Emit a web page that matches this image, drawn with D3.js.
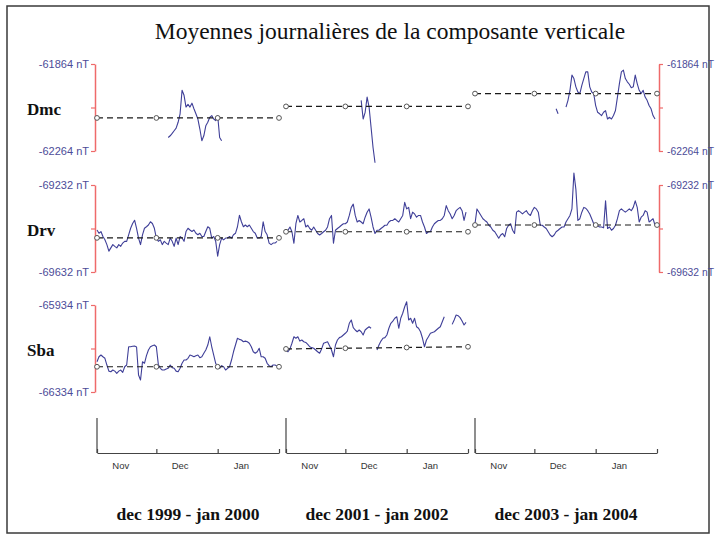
<!DOCTYPE html>
<html>
<head>
<meta charset="utf-8">
<script src="https://cdn.jsdelivr.net/npm/d3@7"></script>
<style>
  body { margin: 0; background: #fff; }
  svg { display: block; }
</style>
</head>
<body>
<svg id="chart" width="716" height="540"></svg>
<script>
// ---- data ---------------------------------------------------------------
const title = "Moyennes journalières de la composante verticale";
const stations = ["Dmc", "Drv", "Sba"];
const axisTopNT = [-61864, -69232, -65934];
const axisBottomNT = [-62264, -69632, -66334];
const rightAxisStations = ["Dmc", "Drv"];

const windowStarts = ["1999-11-01", "2001-11-01", "2003-11-01"];
const windowEnds = ["2000-02-01", "2002-02-01", "2004-02-01"];
const windowLabels = ["dec 1999 - jan 2000", "dec 2001 - jan 2002", "dec 2003 - jan 2004"];
const monthLabels = ["Nov", "Dec", "Jan"];

// daily means of Z (nT); each series starts on its "first" day, null = no data
const dmc1999 = { first: "1999-12-07", values: [
  -62202, -62194, -62183, -62171, -62159, -62132, -62093, -61985, -62008, -62062,
  -62050, -62062, -62044, -62070, -62093, -62117, -62163, -62217, -62194, -62148,
  -62132, -62109, -62101, -62117, -62124, -62101, -62202, -62217] };
const dmc2001 = { first: "2001-12-09", values: [
  -62031, -62117, -62086, -62016, -62062, -62155, -62248, -62318] };
const dmc2003 = { first: "2003-12-12", values: [
  -62070, -62093, null, null, null, -62062, -62031, -61985, -61915, -61931,
  -61969, -61993, -62000, -61962, -61931, -61900, -61900, -61969, -61993, -62000,
  -62055, -62086, -62093, -62101, -62086, -62078, -62117, -62109, -62117, -62101,
  -62078, -62016, -61954, -61900, -61892, -61931, -61946, -61957, -61973, -61969,
  -61915, -61954, -61985, -62000, -61985, -62016, -62031, -62055, -62070, -62101,
  -62117] };

const drv1999 = { first: "1999-11-01", values: [
  -69439, -69454, -69446, -69469, -69484, -69506, -69536, -69521, -69506, -69514,
  -69521, -69506, -69514, -69499, -69491, -69491, -69461, -69431, -69409, -69394,
  -69431, -69476, -69506, -69461, -69431, -69424, -69416, -69401, -69409, -69431,
  -69476, -69491, -69484, -69506, -69491, -69499, -69506, -69476, -69491, -69514,
  -69476, -69506, -69469, -69476, -69491, -69446, -69431, -69439, -69446, -69439,
  -69454, -69461, -69454, -69469, -69469, -69446, -69424, -69431, -69476, -69469,
  -69491, -69559, -69506, -69476, -69484, -69476, -69476, -69469, -69476, -69461,
  -69454, -69424, -69371, -69401, -69424, -69416, -69424, -69416, -69431, -69446,
  -69454, -69476, -69476, -69469, -69401, -69446, -69461, -69499, -69506, -69499,
  -69499, -69491] };
const drv2001 = { first: "2001-11-01", values: [
  -69440, -69440, -69425, -69447, -69500, -69410, -69372, -69402, -69395, -69387,
  -69425, -69417, -69432, -69440, -69425, -69440, -69455, -69462, -69455, -69447,
  -69440, -69425, -69387, -69372, -69500, -69440, -69432, -69425, -69417, -69410,
  -69410, -69402, -69372, -69335, -69320, -69372, -69402, -69395, -69402, -69410,
  -69380, -69357, -69342, -69380, -69425, -69455, -69440, -69440, -69432, -69425,
  -69417, -69417, -69402, -69395, -69395, -69387, -69395, -69402, -69387, -69372,
  -69312, -69342, -69335, -69387, -69357, -69365, -69380, -69372, -69372, -69402,
  -69425, -69455, -69447, -69447, -69425, -69410, -69402, -69395, -69395, -69387,
  -69372, -69327, -69350, -69365, -69387, -69372, -69350, -69342, -69335, -69350,
  -69395, -69357] };
const drv2003 = { first: "2003-11-01", values: [
  -69410, -69342, -69357, -69372, -69387, -69395, -69402, -69417, -69425, -69440,
  -69447, -69462, -69477, -69462, -69455, -69470, -69432, -69417, -69410, -69440,
  -69455, -69357, -69350, -69357, -69365, -69357, -69350, -69365, -69372, -69350,
  -69335, -69342, -69357, -69417, -69417, -69425, -69432, -69447, -69462, -69470,
  -69462, -69447, -69440, -69432, -69425, -69425, -69402, -69387, -69372, -69342,
  -69177, -69252, -69395, -69387, -69357, -69335, -69339, -69350, -69365, -69387,
  -69410, -69414, -69420, -69425, -69425, -69429, -69305, -69432, -69425, -69440,
  -69432, -69417, -69387, -69350, -69342, -69350, -69357, -69350, -69342, -69350,
  -69335, -69305, -69335, -69402, -69380, -69372, -69350, -69357, -69402, -69395,
  -69387, -69417] };

const sba1999 = { first: "1999-11-01", values: [
  -66195, -66172, -66164, -66172, -66179, -66210, -66238, -66241, -66233, -66238,
  -66248, -66238, -66233, -66244, -66218, -66210, -66126, -66126, -66124, -66123,
  -66127, -66256, -66279, -66195, -66202, -66167, -66141, -66126, -66121, -66118,
  -66126, -66207, -66225, -66233, -66233, -66228, -66225, -66210, -66222, -66225,
  -66238, -66241, -66225, -66202, -66187, -66187, -66179, -66164, -66167, -66172,
  -66167, -66164, -66176, -66172, -66156, -66141, -66118, -66080, -66126, -66164,
  -66202, -66222, -66225, -66213, -66218, -66233, -66225, -66218, -66187, -66149,
  -66118, -66087, -66092, -66095, -66103, -66100, -66103, -66110, -66126, -66149,
  -66156, -66149, -66133, -66172, -66172, -66179, -66202, -66213, -66218, -66210,
  -66210, -66215] };
const sba2001 = { first: "2001-11-01", values: [
  -66141, -66149, -66136, -66110, -66080, -66087, -66080, -66100, -66095, -66103,
  -66106, -66115, -66126, -66130, -66133, -66141, -66149, -66156, -66136, -66110,
  -66106, -66103, -66121, -66141, -66172, -66118, -66095, -66084, -66080, -66072,
  -66064, -66054, -66018, -66003, -66038, -66049, -66057, -66049, -66057, -66072,
  -66049, -66041, -66034, -66041, null, null, -66141, -66118, -66100, -66087,
  -66084, -66072, -66041, -66018, -66008, -65995, -65988, -66041, -65995, -65972,
  -65942, -65919, -66003, -65995, -66018, -65995, -66034, -66041, -66057, -66087,
  -66126, -66095, -66080, -66064, -66060, -66057, -66049, -66041, -66034, -66011,
  -65988, null, null, null, -66023, -66003, -65980, -65983, -65992, -66008,
  -66026, -66014] };

// reference level of each window (nT), at window start and window end
const dmcRef = [[-62112, -62112], [-62059, -62059], [-62000, -62000]];
const drvRef = [[-69475, -69475], [-69447, -69447], [-69416, -69416]];
const sbaRef = [[-66218, -66218], [-66136, -66126], null];

const dailyByStation = [
  [dmc1999, dmc2001, dmc2003],
  [drv1999, drv2001, drv2003],
  [sba1999, sba2001, null]
];
const refByStation = [dmcRef, drvRef, sbaRef];

// ---- layout -------------------------------------------------------------
const panelX = [97, 286, 475];
const panelW = 182;
const rowTop = [64, 185, 305];
const rowH = 87;
const leftAxisX = 95, rightAxisX = 659;
const timeAxisY = 453, timeAxisStubTop = 418;

const traceColor = "#3f3f98";
const axisRed = "#ef6a6a";
const labelBlue = "#4c4c98";
const serif = "'Liberation Serif', 'Times New Roman', serif";
const sans = "'Liberation Sans', Arial, sans-serif";

const svg = d3.select("#chart");
const parse = d3.utcParse("%Y-%m-%d");

// frame
svg.append("rect")
  .attr("x", 7).attr("y", 6).attr("width", 702).attr("height", 527)
  .attr("fill", "#fff").attr("stroke", "#3a3a3a").attr("stroke-width", 1.5);

// title
svg.append("text")
  .attr("x", 390).attr("y", 39)
  .attr("text-anchor", "middle")
  .attr("font-family", serif).attr("font-size", 23.5).attr("fill", "#111")
  .text(title);

const xScales = windowStarts.map((s, j) =>
  d3.scaleUtc().domain([parse(s), parse(windowEnds[j])]).range([panelX[j], panelX[j] + panelW]));

stations.forEach((name, i) => {
  const y = d3.scaleLinear()
    .domain([axisBottomNT[i], axisTopNT[i]])
    .range([rowTop[i] + rowH, rowTop[i]]);
  const mid = (axisTopNT[i] + axisBottomNT[i]) / 2;
  const fmt = d => d === mid ? "" : `${d} nT`;

  // station name
  svg.append("text")
    .attr("x", 27).attr("y", y(mid) + 7)
    .attr("font-family", serif).attr("font-weight", "bold").attr("font-size", 17)
    .attr("fill", "#111")
    .text(name);

  const styleAxis = size => g => {
    g.select(".domain").attr("stroke", axisRed).attr("stroke-width", 1.5);
    g.selectAll(".tick line").attr("stroke", axisRed).attr("stroke-width", 1.2);
    g.selectAll(".tick text").attr("fill", labelBlue)
      .attr("font-family", sans).attr("font-size", size);
  };

  svg.append("g")
    .attr("transform", `translate(${leftAxisX},0)`)
    .call(d3.axisLeft(y).tickValues([axisTopNT[i], mid, axisBottomNT[i]])
      .tickFormat(fmt).tickSize(4).tickSizeOuter(0).tickPadding(2))
    .call(styleAxis(11));

  if (rightAxisStations.includes(name)) {
    svg.append("g")
      .attr("transform", `translate(${rightAxisX},0)`)
      .call(d3.axisRight(y).tickValues([axisTopNT[i], mid, axisBottomNT[i]])
        .tickFormat(fmt).tickSize(4).tickSizeOuter(0).tickPadding(4))
      .call(styleAxis(10.3));
  }

  windowStarts.forEach((s, j) => {
    const x = xScales[j];
    const series = dailyByStation[i][j];
    if (series) {
      const first = parse(series.first);
      const pts = series.values.map((v, k) => ({ date: d3.utcDay.offset(first, k), v }));
      const line = d3.line()
        .defined(d => d.v !== null)
        .x(d => x(d.date))
        .y(d => y(d.v));
      svg.append("path")
        .datum(pts)
        .attr("d", line)
        .attr("fill", "none")
        .attr("stroke", traceColor)
        .attr("stroke-width", 1.1)
        .attr("stroke-linejoin", "round");
    }

    const ref = refByStation[i][j];
    if (ref) {
      const [d0, d1] = x.domain();
      const level = d3.scaleUtc().domain([d0, d1]).range(ref);
      const marks = d3.utcMonth.range(d0, d1).concat([d1]);
      svg.append("path")
        .datum([d0, d1])
        .attr("d", d3.line().x(d => x(d)).y(d => y(level(d))))
        .attr("fill", "none")
        .attr("stroke", "#1a1a1a")
        .attr("stroke-width", 1.2)
        .attr("stroke-dasharray", "6,4");
      svg.append("g").selectAll("circle")
        .data(marks)
        .join("circle")
        .attr("cx", d => x(d)).attr("cy", d => y(level(d)))
        .attr("r", 2.4)
        .attr("fill", "#fff").attr("stroke", "#555").attr("stroke-width", 1);
    }
  });
});

// time axes and window captions
windowStarts.forEach((s, j) => {
  const x = xScales[j];
  const [d0, d1] = x.domain();
  const bounds = d3.utcMonth.range(d0, d1).concat([d1]);

  const g = svg.append("g").attr("transform", `translate(0,${timeAxisY})`)
    .call(d3.axisBottom(x).tickValues(bounds).tickFormat(() => "")
      .tickSizeInner(-4).tickSizeOuter(0));
  g.select(".domain").attr("stroke", "#444").attr("stroke-width", 1.2);
  g.selectAll(".tick line").attr("stroke", "#444").attr("stroke-width", 1.2);

  svg.append("line")
    .attr("x1", x(d0)).attr("x2", x(d0))
    .attr("y1", timeAxisStubTop).attr("y2", timeAxisY)
    .attr("stroke", "#444").attr("stroke-width", 1.2);

  // month names sit a little before mid-month
  svg.append("g").selectAll("text")
    .data(bounds.slice(0, 3))
    .join("text")
    .attr("x", d => x(d3.utcDay.offset(d, 12)))
    .attr("y", timeAxisY + 16)
    .attr("text-anchor", "middle")
    .attr("font-family", sans).attr("font-size", 9.5).attr("fill", "#333")
    .text((d, k) => monthLabels[k]);

  svg.append("text")
    .attr("x", (x(d0) + x(d1)) / 2).attr("y", 520)
    .attr("text-anchor", "middle")
    .attr("font-family", serif).attr("font-weight", "bold").attr("font-size", 17.5)
    .attr("fill", "#111")
    .text(windowLabels[j]);
});
</script>
</body>
</html>
